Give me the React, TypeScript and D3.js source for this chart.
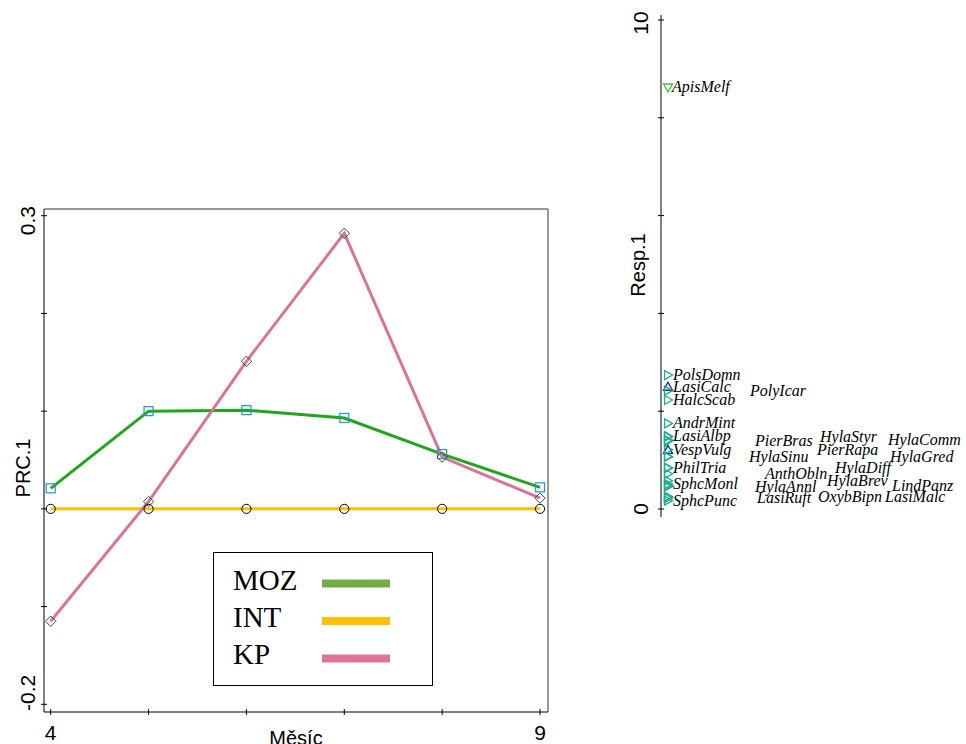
import React, { useEffect, useRef } from 'react'
import * as d3 from 'd3'

// left panel: PRC curves per month
const months = [4, 5, 6, 7, 8, 9]
const mozValues = [0.021, 0.1, 0.101, 0.093, 0.056, 0.022]
const intValues = [0, 0, 0, 0, 0, 0]
const kpValues = [-0.115, 0.0075, 0.151, 0.282, 0.053, 0.011]
const yTickValues = [-0.2, -0.1, 0, 0.1, 0.2, 0.3]
const legendNames = ['MOZ', 'INT', 'KP']

// right panel: species scores on Resp.1
const speciesNames = [
  'ApisMelf', 'PolsDomn', 'LasiCalc', 'PolyIcar', 'HalcScab', 'AndrMint',
  'LasiAlbp', 'HylaStyr', 'PierBras', 'HylaComm', 'VespVulg', 'PierRapa',
  'HylaSinu', 'HylaGred', 'PhilTria', 'HylaDiff', 'AnthObln', 'HylaBrev',
  'SphcMonl', 'LindPanz', 'HylaAnnl', 'LasiMalc', 'OxybBipn', 'LasiRuft',
  'SphcPunc'
]
const speciesResp1 = [
  8.62, 2.74, 2.5, 2.42, 2.23, 1.75,
  1.49, 1.48, 1.39, 1.41, 1.21, 1.21,
  1.07, 1.07, 0.84, 0.84, 0.72, 0.58,
  0.51, 0.48, 0.46, 0.25, 0.25, 0.22,
  0.17
]
const speciesGroup = [
  'down', 'right', 'up', 'right', 'right', 'right',
  'right', 'right', 'right', 'right', 'up', 'right',
  'right', 'right', 'right', 'right', 'right', 'right',
  'right', 'right', 'right', 'right', 'right', 'right',
  'right'
]
const respTicks = [0, 2, 4, 6, 8, 10]

// label placement (px right of the axis), to keep names apart
const labelDx = [
  11, 12, 12, 89, 12, 12,
  12, 159, 94, 227, 12, 156,
  88, 229, 12, 174, 104, 166,
  12, 231, 94, 224, 157, 96,
  12
]

const groupColor: Record<string, string> = {
  right: '#17ad89',
  up: '#1a1a8c',
  down: '#3cbf3c'
}

function trianglePath(kind: string) {
  if (kind === 'up') return 'M0,-4.5L4.5,3.5L-4.5,3.5Z'
  if (kind === 'down') return 'M-4.5,-3.5L4.5,-3.5L0,4.5Z'
  return 'M-3.5,-4.5L4.5,0L-3.5,4.5Z'
}

export default function App() {
  const ref = useRef<SVGSVGElement | null>(null)

  useEffect(() => {
    const svg = d3.select(ref.current)
    svg.selectAll('*').remove()

    const sans = 'Liberation Sans, Arial, sans-serif'
    const serif = 'Liberation Serif, Times New Roman, serif'

    // ---------- left panel ----------
    const left = 44
    const right = 548
    const top = 209
    const bottom = 712

    const x = d3.scaleLinear().domain([4, 9]).range([50.7, 540])
    const y = d3.scaleLinear().domain([-0.2, 0.3]).range([704.3, 215.7])

    const g = svg.append('g')

    // frame: gray top/right, black axes
    g.append('line').attr('x1', left).attr('x2', right).attr('y1', top).attr('y2', top)
      .attr('stroke', '#777').attr('stroke-width', 1.5)
    g.append('line').attr('x1', right).attr('x2', right).attr('y1', top).attr('y2', bottom)
      .attr('stroke', '#777').attr('stroke-width', 1.5)
    g.append('line').attr('x1', left).attr('x2', left).attr('y1', top).attr('y2', bottom)
      .attr('stroke', '#000').attr('stroke-width', 1)
    g.append('line').attr('x1', left).attr('x2', right).attr('y1', bottom).attr('y2', bottom)
      .attr('stroke', '#000').attr('stroke-width', 1)

    g.selectAll('.ytick')
      .data(yTickValues)
      .enter()
      .append('line')
      .attr('x1', left - 3)
      .attr('x2', left + 3)
      .attr('y1', d => y(d))
      .attr('y2', d => y(d))
      .attr('stroke', '#000')

    g.selectAll('.xtick')
      .data(months)
      .enter()
      .append('line')
      .attr('x1', d => x(d))
      .attr('x2', d => x(d))
      .attr('y1', bottom - 3)
      .attr('y2', bottom + 3)
      .attr('stroke', '#000')

    // end tick labels, kept inside the frame
    g.append('text')
      .attr('transform', `translate(35, ${top - 3}) rotate(-90)`)
      .attr('text-anchor', 'end')
      .attr('font-family', sans)
      .attr('font-size', 21)
      .text('0.3')
    g.append('text')
      .attr('transform', `translate(35, ${bottom - 1}) rotate(-90)`)
      .attr('text-anchor', 'start')
      .attr('font-family', sans)
      .attr('font-size', 21)
      .text('-0.2')

    g.selectAll('.xlab')
      .data([months[0], months[months.length - 1]])
      .enter()
      .append('text')
      .attr('x', d => x(d))
      .attr('y', 740)
      .attr('text-anchor', 'middle')
      .attr('font-family', sans)
      .attr('font-size', 21)
      .text(d => `${d}`)

    g.append('text')
      .attr('x', 296)
      .attr('y', 745)
      .attr('text-anchor', 'middle')
      .attr('font-family', sans)
      .attr('font-size', 20)
      .text('Měsíc')

    g.append('text')
      .attr('transform', 'translate(30, 468) rotate(-90)')
      .attr('text-anchor', 'middle')
      .attr('font-family', sans)
      .attr('font-size', 20)
      .text('PRC.1')

    const line = d3
      .line<number>()
      .x((d, i) => x(months[i]))
      .y(d => y(d))

    const series = [
      { name: 'MOZ', values: mozValues, color: '#21a51d' },
      { name: 'INT', values: intValues, color: '#ffbf00' },
      { name: 'KP', values: kpValues, color: '#d8739b' }
    ]

    series.forEach(s => {
      g.append('path')
        .attr('d', line(s.values))
        .attr('fill', 'none')
        .attr('stroke', s.color)
        .attr('stroke-width', 3)
    })

    // markers
    g.selectAll('.sq')
      .data(mozValues)
      .enter()
      .append('rect')
      .attr('x', (d, i) => x(months[i]) - 4.5)
      .attr('y', d => y(d) - 4.5)
      .attr('width', 9)
      .attr('height', 9)
      .attr('fill', 'none')
      .attr('stroke', '#1e96d8')
      .attr('stroke-width', 1.2)

    g.selectAll('.ci')
      .data(intValues)
      .enter()
      .append('circle')
      .attr('cx', (d, i) => x(months[i]))
      .attr('cy', d => y(d))
      .attr('r', 4.6)
      .attr('fill', 'none')
      .attr('stroke', '#000')
      .attr('stroke-width', 1)

    g.selectAll('.di')
      .data(kpValues)
      .enter()
      .append('path')
      .attr('transform', (d, i) => `translate(${x(months[i])}, ${y(d)})`)
      .attr('d', 'M0,-5.2L5.2,0L0,5.2L-5.2,0Z')
      .attr('fill', 'none')
      .attr('stroke', '#1f5a36')
      .attr('stroke-width', 1)

    // legend
    const legendColors = ['#70ad47', '#ffc000', '#df7499']
    const lg = g.append('g')
    lg.append('rect')
      .attr('x', 213.5)
      .attr('y', 552.5)
      .attr('width', 219)
      .attr('height', 133)
      .attr('fill', '#fff')
      .attr('stroke', '#000')
      .attr('stroke-width', 1)
    legendNames.forEach((name, i) => {
      lg.append('text')
        .attr('x', 233)
        .attr('y', 590 + i * 37)
        .attr('font-family', serif)
        .attr('font-size', 29)
        .text(name)
      lg.append('line')
        .attr('x1', 322)
        .attr('x2', 390)
        .attr('y1', 583.5 + i * 37.5)
        .attr('y2', 583.5 + i * 37.5)
        .attr('stroke', legendColors[i])
        .attr('stroke-width', 8)
    })

    // ---------- right panel ----------
    const ax = 661
    const yR = d3.scaleLinear().domain([0, 10]).range([509, 20])
    const r = svg.append('g')

    r.append('line')
      .attr('x1', ax)
      .attr('x2', ax)
      .attr('y1', 15)
      .attr('y2', 517)
      .attr('stroke', '#000')

    r.selectAll('.rtick')
      .data(respTicks)
      .enter()
      .append('line')
      .attr('x1', ax - 3)
      .attr('x2', ax + 3)
      .attr('y1', d => yR(d))
      .attr('y2', d => yR(d))
      .attr('stroke', '#000')

    r.selectAll('.rlab')
      .data([respTicks[0], respTicks[respTicks.length - 1]])
      .enter()
      .append('text')
      .attr('transform', d => `translate(648, ${yR(d) + (d === 10 ? 3 : 0)}) rotate(-90)`)
      .attr('text-anchor', 'middle')
      .attr('font-family', sans)
      .attr('font-size', 21)
      .text(d => `${d}`)

    r.append('text')
      .attr('transform', 'translate(645, 265) rotate(-90)')
      .attr('text-anchor', 'middle')
      .attr('font-family', sans)
      .attr('font-size', 20)
      .text('Resp.1')

    r.selectAll('.sp')
      .data(speciesResp1)
      .enter()
      .append('path')
      .attr('transform', d => `translate(${ax + 7}, ${yR(d)})`)
      .attr('d', (d, i) => trianglePath(speciesGroup[i]))
      .attr('fill', 'none')
      .attr('stroke', (d, i) => groupColor[speciesGroup[i]])
      .attr('stroke-width', 1.3)

    r.selectAll('.splab')
      .data(speciesResp1)
      .enter()
      .append('text')
      .attr('x', (d, i) => ax + labelDx[i])
      .attr('y', d => yR(d) + 5)
      .attr('font-family', serif)
      .attr('font-style', 'italic')
      .attr('font-size', 16)
      .attr('fill', '#000')
      .text((d, i) => speciesNames[i])
  }, [])

  return (
    <svg
      ref={ref}
      width={966}
      height={744}
      style={{ position: 'absolute', left: 0, top: 0, background: '#fff' }}
    />
  )
}
